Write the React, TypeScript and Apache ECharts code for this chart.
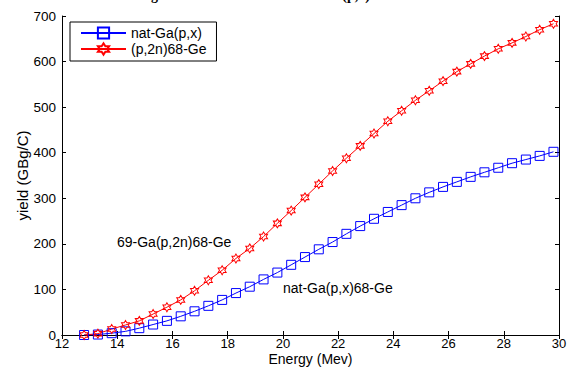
import React, { useEffect, useRef } from "react";
import * as echarts from "echarts";

const energy = [
  12.8, 13.3, 13.8, 14.3, 14.8, 15.3, 15.8, 16.3, 16.8, 17.3,
  17.8, 18.3, 18.8, 19.3, 19.8, 20.3, 20.8, 21.3, 21.8, 22.3,
  22.8, 23.3, 23.8, 24.3, 24.8, 25.3, 25.8, 26.3, 26.8, 27.3,
  27.8, 28.3, 28.8, 29.3, 29.8,
];
const natGaYield = [
  0, 1, 4, 8, 15, 23, 31, 41, 52, 64,
  77, 92, 106, 122, 137, 154, 171, 188, 204, 222,
  239, 255, 270, 285, 300, 313, 325, 336, 347, 357,
  367, 377, 385, 393, 402,
];
const ga69Yield = [
  0, 3, 13, 22, 31, 46, 61, 77, 97, 120,
  142, 168, 190, 216, 245, 273, 302, 331, 360, 388,
  415, 442, 469, 492, 515, 536, 557, 578, 595, 612,
  628, 641, 655, 670, 683,
];
const seriesNames = ["nat-Ga(p,x)", "(p,2n)68-Ge"];
const annotations = ["69-Ga(p,2n)68-Ge", "nat-Ga(p,x)68-Ge"];
const titleText = "Integral Yield of 68-Ge from nat-Ga(p,x) Reaction";
const xName = "Energy (Mev)";
const yName = "yield (GBg/C)";

const hexagram =
  "path://M100,0L128.9,50L186.6,50L157.7,100L186.6,150L128.9,150L100,200L71.1,150L13.4,150L42.3,100L13.4,50L71.1,50Z";

const FONT = "Liberation Sans, Arial, sans-serif";

export default function App() {
  const ref = useRef<HTMLDivElement>(null);
  useEffect(() => {
    if (!ref.current) return;
    const chart = echarts.init(ref.current, undefined, { renderer: "svg" });
    const axisLine = { show: true, lineStyle: { color: "#000", width: 1 } };
    const tick = { show: true, inside: true, length: 4, lineStyle: { color: "#000" } };
    chart.setOption({
      animation: false,
      backgroundColor: "#fff",
      grid: { left: 62, right: 14, top: 16, bottom: 32, outerBoundsMode: "none", containLabel: false },
      legend: {
        orient: "vertical",
        left: 70,
        top: 22,
        data: seriesNames,
        itemWidth: 45,
        itemHeight: 14,
        itemGap: 2,
        padding: [4, 10, 5, 10],
        borderColor: "#000",
        borderWidth: 1,
        backgroundColor: "#fff",
        textStyle: { fontFamily: FONT, fontSize: 14, color: "#000" },
      },
      xAxis: [
        {
          type: "value",
          min: 12,
          max: 30,
          interval: 2,
          position: "bottom",
          axisLine,
          axisTick: tick,
          splitLine: { show: false },
          axisLabel: { fontFamily: FONT, fontSize: 13, color: "#000", margin: 2 },
          name: xName,
          nameLocation: "middle",
          nameGap: 17,
          nameMoveOverlap: false,
          nameTextStyle: { fontFamily: FONT, fontSize: 14, color: "#000", verticalAlign: "top" },
        },
        {
          type: "value",
          min: 12,
          max: 30,
          interval: 2,
          position: "top",
          axisLine,
          axisTick: tick,
          splitLine: { show: false },
          axisLabel: { show: false },
        },
      ],
      yAxis: [
        {
          type: "value",
          min: 0,
          max: 700,
          interval: 100,
          position: "left",
          axisLine,
          axisTick: tick,
          splitLine: { show: false },
          axisLabel: { fontFamily: FONT, fontSize: 13.5, color: "#000", margin: 6 },
          name: yName,
          nameLocation: "middle",
          nameGap: 32,
          nameMoveOverlap: false,
          nameTextStyle: { fontFamily: FONT, fontSize: 15, color: "#000" },
        },
        {
          type: "value",
          min: 0,
          max: 700,
          interval: 100,
          position: "right",
          axisLine,
          axisTick: tick,
          splitLine: { show: false },
          axisLabel: { show: false },
        },
      ],
      series: [
        {
          name: seriesNames[0],
          type: "line",
          data: energy.map((e, i) => [e, natGaYield[i]]),
          symbol: "rect",
          symbolSize: 9,
          showAllSymbol: true,
          lineStyle: { color: "#0000ff", width: 1 },
          itemStyle: { color: "rgba(0,0,0,0)", borderColor: "#0000ff", borderWidth: 1 },
        },
        {
          name: seriesNames[1],
          type: "line",
          data: energy.map((e, i) => [e, ga69Yield[i]]),
          symbol: hexagram,
          symbolSize: [8, 9],
          showAllSymbol: true,
          lineStyle: { color: "#ff0000", width: 1 },
          itemStyle: { color: "rgba(0,0,0,0)", borderColor: "#ff0000", borderWidth: 1 },
        },
      ],
      graphic: [
        {
          type: "text",
          x: 127,
          y: 2,
          style: {
            text: titleText,
            font: "bold 14px 'Liberation Serif', 'Times New Roman', serif",
            fill: "#000",
            verticalAlign: "bottom",
          },
        },
        {
          type: "text",
          x: 117,
          y: 242,
          style: {
            text: annotations[0],
            font: `14px ${FONT}`,
            fill: "#000",
            verticalAlign: "middle",
          },
        },
        {
          type: "text",
          x: 283,
          y: 288,
          style: {
            text: annotations[1],
            font: `14px ${FONT}`,
            fill: "#000",
            verticalAlign: "middle",
          },
        },
      ],
    });
    return () => chart.dispose();
  }, []);
  return (
    <div
      ref={ref}
      style={{ position: "fixed", left: 0, top: 0, width: 573, height: 367 }}
    />
  );
}
